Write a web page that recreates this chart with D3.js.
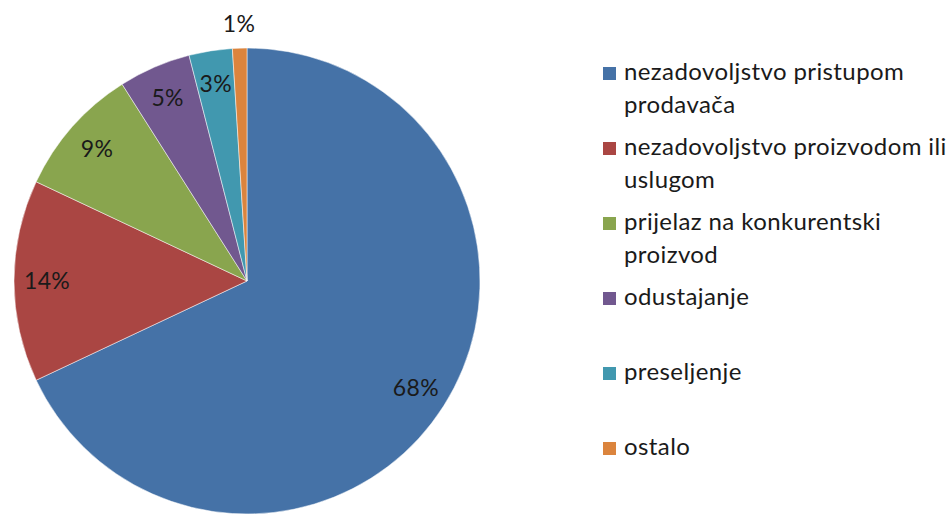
<!DOCTYPE html>
<html><head><meta charset="utf-8">
<script src="https://cdn.jsdelivr.net/npm/d3@7"></script>
<style>body{margin:0;background:#fff}svg{display:block}text{font-family:Lato,"Open Sans",sans-serif;fill:#1a1a1a}</style>
</head><body>
<svg id="c" width="949" height="514"></svg>
<script>
const categories = ["nezadovoljstvo pristupom prodavača","nezadovoljstvo proizvodom ili uslugom","prijelaz na konkurentski proizvod","odustajanje","preseljenje","ostalo"];
const legendLines = [["nezadovoljstvo pristupom","prodavača"],["nezadovoljstvo proizvodom ili","uslugom"],["prijelaz na konkurentski","proizvod"],["odustajanje"],["preseljenje"],["ostalo"]];
const values = [68,14,9,5,3,1];
const colors = ["#4572A7","#AA4643","#89A54E","#71588F","#4198AF","#DB843D"];

const svg = d3.select("#c");
const cx = 247, cy = 281, R = 233;
const data = categories.map((c,i)=>({name:c, value:values[i], color:colors[i]}));
const pie = d3.pie().value(d=>d.value).sort(null);
const arcs = pie(data);
const arc = d3.arc().innerRadius(0).outerRadius(R);
const g = svg.append("g").attr("transform",`translate(${cx},${cy})`);
g.selectAll("path").data(arcs).join("path")
  .attr("d",arc).attr("fill",d=>d.data.color)
  .attr("stroke","#fff").attr("stroke-width",0.5);
const inArc = d3.arc().innerRadius(200).outerRadius(200);
const outArc = d3.arc().innerRadius(257).outerRadius(257);
g.selectAll("text.lbl").data(arcs).join("text").attr("class","lbl")
  .attr("transform",d=>`translate(${(d.data.value<2?outArc:inArc).centroid(d)})`)
  .attr("text-anchor","middle").attr("dy","0.36em")
  .style("font-size","23px").style("letter-spacing","0.3px")
  .text(d=>d.data.value+"%");

const lg = svg.append("g");
legendLines.forEach((lines,i)=>{
  const y0 = 80 + i*75;
  lg.append("rect").attr("x",603).attr("y",y0-13).attr("width",13).attr("height",13).attr("fill",colors[i]);
  lines.forEach((t,j)=>{
    lg.append("text").attr("x",624).attr("y",y0+j*32.5)
      .style("font-size","24px").style("letter-spacing","0.4px").text(t);
  });
});
</script>
</body></html>
